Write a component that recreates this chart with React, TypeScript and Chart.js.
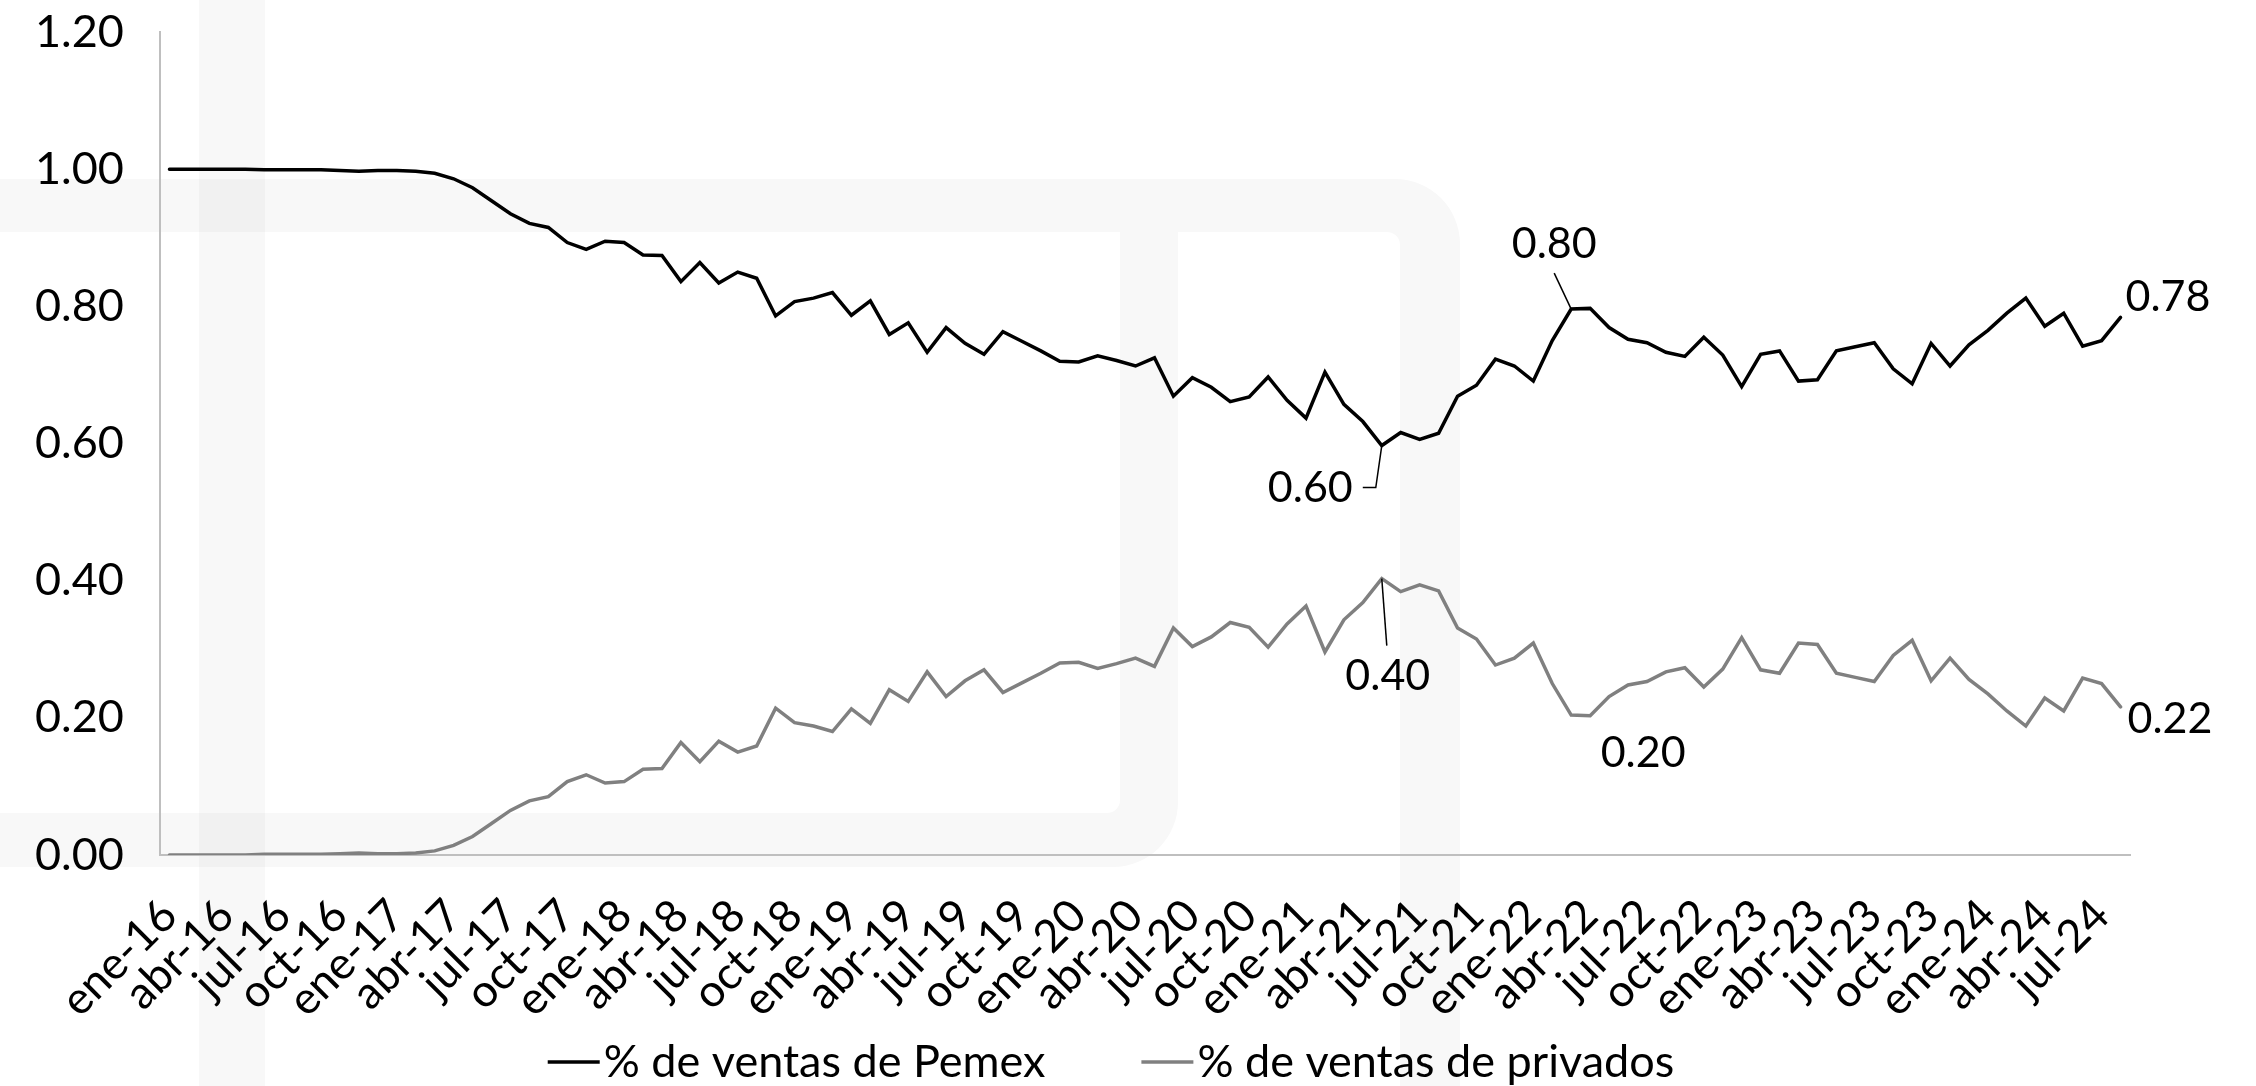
import React, { useEffect, useRef } from 'react';
import { Chart, registerables } from 'chart.js';

Chart.register(...registerables);

// ---- data ----
const MONTH_NAMES = ['ene', 'feb', 'mar', 'abr', 'may', 'jun', 'jul', 'ago', 'sep', 'oct', 'nov', 'dic'];
const FIRST_YEAR = 2016;
const MONTH_COUNT = 104; // ene-16 .. ago-24
const categories: string[] = Array.from({ length: MONTH_COUNT }, (_, i) =>
  `${MONTH_NAMES[i % 12]}-${String(FIRST_YEAR + Math.floor(i / 12)).slice(2)}`
);

const pemexShare = [
  1.000, 1.000, 1.000, 1.000, 1.000, 0.999, 0.999, 0.999, 0.999, 0.998, 0.997, 0.998,
  0.998, 0.997, 0.994, 0.986, 0.973, 0.954, 0.935, 0.921, 0.915, 0.893, 0.883, 0.895,
  0.893, 0.875, 0.874, 0.836, 0.864, 0.834, 0.850, 0.841, 0.786, 0.807, 0.812, 0.820,
  0.787, 0.808, 0.759, 0.776, 0.733, 0.769, 0.746, 0.730, 0.763, 0.749, 0.735, 0.720,
  0.719, 0.728, 0.721, 0.713, 0.725, 0.669, 0.696, 0.682, 0.661, 0.668, 0.697, 0.663,
  0.637, 0.704, 0.657, 0.632, 0.597, 0.616, 0.606, 0.615, 0.669, 0.685, 0.723, 0.713,
  0.691, 0.750, 0.796, 0.797, 0.769, 0.752, 0.747, 0.733, 0.727, 0.755, 0.729, 0.683,
  0.730, 0.735, 0.691, 0.693, 0.735, 0.741, 0.747, 0.709, 0.687, 0.746, 0.713, 0.744,
  0.765, 0.790, 0.812, 0.771, 0.790, 0.742, 0.750, 0.784,
];

const privadosShare = [
  0.000, 0.000, 0.000, 0.000, 0.000, 0.001, 0.001, 0.001, 0.001, 0.002, 0.003, 0.002,
  0.002, 0.003, 0.006, 0.014, 0.027, 0.046, 0.065, 0.079, 0.085, 0.107, 0.117, 0.105,
  0.107, 0.125, 0.126, 0.164, 0.136, 0.166, 0.150, 0.159, 0.214, 0.193, 0.188, 0.180,
  0.213, 0.192, 0.241, 0.224, 0.267, 0.231, 0.254, 0.270, 0.237, 0.251, 0.265, 0.280,
  0.281, 0.272, 0.279, 0.287, 0.275, 0.331, 0.304, 0.318, 0.339, 0.332, 0.303, 0.337,
  0.363, 0.296, 0.343, 0.368, 0.403, 0.384, 0.394, 0.385, 0.331, 0.315, 0.277, 0.287,
  0.309, 0.250, 0.204, 0.203, 0.231, 0.248, 0.253, 0.267, 0.273, 0.245, 0.271, 0.317,
  0.270, 0.265, 0.309, 0.307, 0.265, 0.259, 0.253, 0.291, 0.313, 0.254, 0.287, 0.256,
  0.235, 0.210, 0.188, 0.229, 0.210, 0.258, 0.250, 0.216,
];

const SERIES_NAMES = ['% de ventas de Pemex', '% de ventas de privados'];
const Y_MIN = 0;
const Y_MAX = 1.2;
const Y_STEP = 0.2;
const LABEL_EVERY = 3;
const pemexLabelIdx = [64, 74, 103];
const privadosLabelIdx = [64, 75, 103];

// ---- styles ----
const FONT = 'Lato';
const TICK_FONT_SIZE = 45;
const XTICK_FONT_SIZE = 45;
const DATA_FONT_SIZE = 43;
const LEGEND_FONT_SIZE = 45;
const PEMEX_COLOR = '#000000';
const PRIV_COLOR = '#808080';
const AXIS_COLOR = '#bfbfbf';

type LabelSpec = {
  ds: number; idx: number; align: CanvasTextAlign; dx: number; dy: number; leader?: number[][];
};

const labelSpecs: LabelSpec[] = [
  { ds: 0, idx: pemexLabelIdx[0], align: 'right', dx: -29, dy: 43, leader: [[-6, 42], [-19, 42]] },
  { ds: 0, idx: pemexLabelIdx[1], align: 'center', dx: -17, dy: -65, leader: [[-17, -36]] },
  { ds: 0, idx: pemexLabelIdx[2], align: 'left', dx: 5, dy: -20 },
  { ds: 1, idx: privadosLabelIdx[0], align: 'center', dx: 6, dy: 98, leader: [[5, 67]] },
  { ds: 1, idx: privadosLabelIdx[1], align: 'center', dx: 53, dy: 37 },
  { ds: 1, idx: privadosLabelIdx[2], align: 'left', dx: 7, dy: 12 },
];

const watermarkPlugin = {
  id: 'watermark',
  beforeDraw(chart: any) {
    const ctx: CanvasRenderingContext2D = chart.ctx;
    const H = chart.height;
    ctx.save();
    ctx.fillStyle = '#f8f8f8';
    ctx.fillRect(199, 0, 66, H);
    ctx.beginPath();
    ctx.moveTo(0, 179);
    ctx.lineTo(1395, 179);
    ctx.arcTo(1460, 179, 1460, 244, 65);
    ctx.lineTo(1460, H);
    ctx.lineTo(1400, H);
    ctx.lineTo(1400, 245);
    ctx.arcTo(1400, 232, 1387, 232, 13);
    ctx.lineTo(0, 232);
    ctx.closePath();
    ctx.fill();
    ctx.beginPath();
    ctx.moveTo(1120, 232);
    ctx.lineTo(1178, 232);
    ctx.lineTo(1178, 802);
    ctx.arcTo(1178, 867, 1113, 867, 65);
    ctx.lineTo(0, 867);
    ctx.lineTo(0, 813);
    ctx.lineTo(1107, 813);
    ctx.arcTo(1120, 813, 1120, 800, 13);
    ctx.closePath();
    ctx.fill();
    ctx.fillStyle = '#f1f1f1';
    ctx.fillRect(199, 179, 66, 53);
    ctx.fillRect(199, 813, 66, 54);
    ctx.restore();
  },
};

const dataLabelPlugin = {
  id: 'dataLabels',
  afterDatasetsDraw(chart: any) {
    const ctx: CanvasRenderingContext2D = chart.ctx;
    ctx.save();
    ctx.font = `${DATA_FONT_SIZE}px ${FONT}`;
    ctx.fillStyle = '#000';
    ctx.strokeStyle = '#000';
    ctx.lineWidth = 1.5;
    ctx.textBaseline = 'middle';
    for (const s of labelSpecs) {
      const pt = chart.getDatasetMeta(s.ds).data[s.idx];
      if (!pt) continue;
      const value = chart.data.datasets[s.ds].data[s.idx] as number;
      if (s.leader) {
        ctx.beginPath();
        ctx.moveTo(pt.x, pt.y);
        for (const [lx, ly] of s.leader) ctx.lineTo(pt.x + lx, pt.y + ly);
        ctx.stroke();
      }
      ctx.textAlign = s.align;
      ctx.fillText(value.toFixed(2), pt.x + s.dx, pt.y + s.dy);
    }
    ctx.restore();
  },
};

const legendPlugin = {
  id: 'customLegend',
  afterDraw(chart: any) {
    const ctx: CanvasRenderingContext2D = chart.ctx;
    const colors = [PEMEX_COLOR, PRIV_COLOR];
    const lineLen = 52;
    const gap = 4;
    const itemGap = 96;
    const centerX = 1111;
    const y = 1062;
    ctx.save();
    ctx.font = `${LEGEND_FONT_SIZE}px ${FONT}`;
    ctx.textBaseline = 'middle';
    ctx.textAlign = 'left';
    const widths = SERIES_NAMES.map((t) => ctx.measureText(t).width);
    const total = widths.reduce((a, w) => a + lineLen + gap + w, 0) + itemGap * (SERIES_NAMES.length - 1);
    let x = centerX - total / 2;
    SERIES_NAMES.forEach((name, i) => {
      ctx.strokeStyle = colors[i];
      ctx.lineWidth = 3.5;
      ctx.beginPath();
      ctx.moveTo(x, y);
      ctx.lineTo(x + lineLen, y);
      ctx.stroke();
      ctx.fillStyle = '#000';
      ctx.fillText(name, x + lineLen + gap, y);
      x += lineLen + gap + widths[i] + itemGap;
    });
    ctx.restore();
  },
};

export default function App() {
  const canvasRef = useRef<HTMLCanvasElement | null>(null);

  useEffect(() => {
    const canvas = canvasRef.current;
    if (!canvas) return;
    Chart.defaults.font.family = FONT;
    const chart = new Chart(canvas, {
      type: 'line',
      data: {
        labels: categories,
        datasets: [
          {
            label: SERIES_NAMES[0],
            data: pemexShare,
            borderColor: PEMEX_COLOR,
            backgroundColor: PEMEX_COLOR,
            borderWidth: 3.5,
            pointRadius: 0,
            tension: 0,
            borderCapStyle: 'round',
            borderJoinStyle: 'miter',
          },
          {
            label: SERIES_NAMES[1],
            data: privadosShare,
            borderColor: PRIV_COLOR,
            backgroundColor: PRIV_COLOR,
            borderWidth: 3.5,
            pointRadius: 0,
            tension: 0,
            borderCapStyle: 'round',
            borderJoinStyle: 'miter',
          },
        ],
      },
      options: {
        animation: false,
        responsive: true,
        maintainAspectRatio: false,
        layout: { padding: { left: 35, right: 126, top: 0, bottom: 0 } },
        plugins: {
          legend: { display: false },
          tooltip: { enabled: false },
          title: { display: false },
        },
        scales: {
          x: {
            type: 'category',
            offset: true,
            grid: { display: false, drawTicks: false },
            border: { display: true, color: AXIS_COLOR, width: 2 },
            ticks: {
              autoSkip: false,
              maxRotation: 45,
              minRotation: 45,
              padding: 34,
              color: '#000',
              font: { size: XTICK_FONT_SIZE, family: FONT },
              callback: (_v: any, idx: number) => (idx % LABEL_EVERY === 0 ? categories[idx] : ''),
            },
            afterFit: (scale: any) => {
              scale.height = 231;
            },
          },
          y: {
            type: 'linear',
            min: Y_MIN,
            max: Y_MAX,
            grid: { display: false, drawTicks: false },
            border: { display: true, color: AXIS_COLOR, width: 2 },
            ticks: {
              stepSize: Y_STEP,
              padding: 5,
              crossAlign: 'far',
              color: '#000',
              font: { size: TICK_FONT_SIZE, family: FONT },
              callback: (v: any) => Number(v).toFixed(2),
            },
            afterFit: (scale: any) => {
              scale.width = 125;
            },
          },
        },
      },
      plugins: [watermarkPlugin, dataLabelPlugin, legendPlugin],
    });
    return () => chart.destroy();
  }, []);

  return (
    <div style={{ position: 'fixed', left: 0, top: 0, width: 2256, height: 1086, background: '#fff' }}>
      <canvas ref={canvasRef} />
    </div>
  );
}
